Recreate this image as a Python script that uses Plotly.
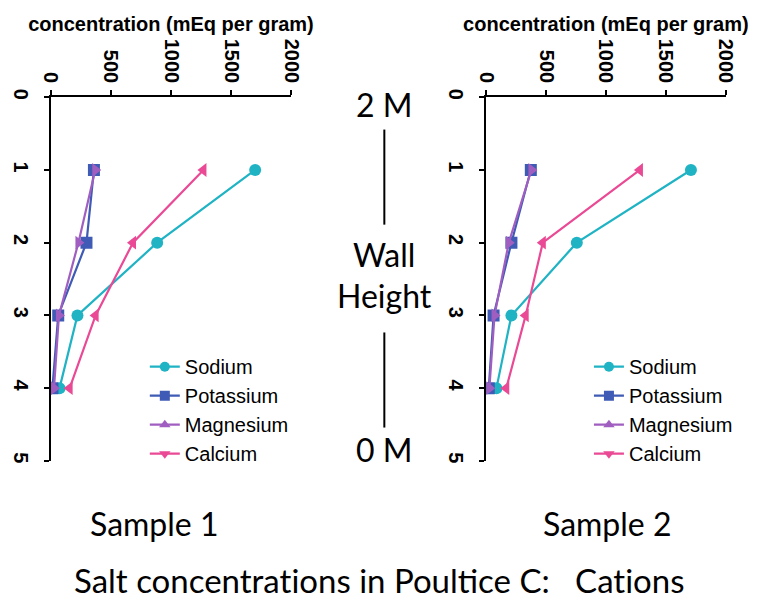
import plotly.graph_objects as go

depth = [1, 2, 3, 4]
series_names = ["Sodium", "Potassium", "Magnesium", "Calcium"]
colors = ["#1fb3c4", "#3f5bb5", "#a05fc0", "#ea4a95"]
plot_symbols = ["circle", "square", "triangle-right", "triangle-left"]
legend_symbols = ["circle", "square", "triangle-up", "triangle-down"]

sample1 = {
    "Sodium": [1700, 885, 222, 73],
    "Potassium": [359, 297, 62, 14],
    "Magnesium": [370, 230, 68, 27],
    "Calcium": [1270, 684, 373, 157],
}
sample2 = {
    "Sodium": [1710, 757, 211, 86],
    "Potassium": [373, 211, 62, 22],
    "Magnesium": [378, 189, 70, 27],
    "Calcium": [1284, 473, 330, 168],
}
x_ticks = [0, 500, 1000, 1500, 2000]
y_ticks = [0, 1, 2, 3, 4, 5]

fig = go.Figure()
for si, (data, xa, ya, lg) in enumerate([(sample1, "x", "y", "legend"), (sample2, "x2", "y2", "legend2")]):
    for name, col, ps, ls in zip(series_names, colors, plot_symbols, legend_symbols):
        fig.add_trace(go.Scatter(
            x=data[name], y=depth, mode="lines+markers", xaxis=xa, yaxis=ya,
            line=dict(color=col, width=2.2), marker=dict(symbol=ps, size=12, color=col),
            showlegend=False, name=name))
        fig.add_trace(go.Scatter(
            x=[None], y=[None], mode="lines+markers", xaxis=xa, yaxis=ya,
            line=dict(color=col, width=2.2), marker=dict(symbol=ls, size=10, color=col),
            showlegend=True, legend=lg, name=name))

W, H = 759, 606
axis_common = dict(showline=True, linecolor="black", linewidth=2, ticks="outside",
                   ticklen=5, tickwidth=2, tickcolor="black", showgrid=False, zeroline=False,
                   tickangle=90, tickfont=dict(family="Liberation Sans", size=20, color="black", weight="bold"))

def xa(dom):
    return dict(domain=dom, range=[0, 2000], side="top", tickvals=x_ticks,
                title=dict(text="concentration (mEq per gram)",
                           font=dict(family="Liberation Sans", size=20, color="black", weight="bold"), standoff=2),
                **axis_common)

def ya(dom):
    return dict(domain=dom, range=[5, 0], tickvals=y_ticks, ticklabelstandoff=6, **axis_common)

ydom = [1 - 461 / H, 1 - 90 / H]
leg_font = dict(family="Liberation Sans", size=20, color="black")
fig.update_layout(
    width=W, height=H, margin=dict(l=0, r=0, t=0, b=0),
    paper_bgcolor="white", plot_bgcolor="white",
    xaxis=xa([41 / W, 289 / W]), yaxis=dict(anchor="x", **ya(ydom)),
    xaxis2=dict(anchor="y2", **xa([490 / W, 737 / W])), yaxis2=dict(anchor="x2", **ya(ydom)),
    legend=dict(x=138 / W, y=1 - 345 / H, xanchor="left", yanchor="top", bgcolor="rgba(0,0,0,0)",
                font=leg_font, tracegroupgap=0, itemwidth=30),
    legend2=dict(x=596 / W, y=1 - 345 / H, xanchor="left", yanchor="top", bgcolor="rgba(0,0,0,0)",
                 font=leg_font, tracegroupgap=0, itemwidth=30),
    showlegend=True,
)

big = dict(family="Lato", size=32, color="black")
annos = [
    ("2 M", 385, 97), ("Wall", 385, 250), ("Height", 385, 292), ("0 M", 385, 449),
    ("Sample 1", 148, 525), ("Sample 2", 615, 525),
]
for t, x, y in annos:
    fig.add_annotation(text=t, x=x / W, y=1 - y / H, xref="paper", yref="paper",
                       showarrow=False, font=big, xanchor="center", yanchor="middle")
zw = "\u200c"
main_title = f"Salt concentrat{zw}ions in Poultice C:&nbsp;&nbsp; Cat{zw}ions"
fig.add_annotation(text=main_title, x=380 / W, y=1 - 583 / H,
                   xref="paper", yref="paper", showarrow=False,
                   font=dict(family="Lato", size=33, color="black"), xanchor="center", yanchor="middle")
for y0, y1 in [(123, 220), (330, 427)]:
    fig.add_shape(type="line", xref="paper", yref="paper", x0=385 / W, x1=385 / W,
                  y0=1 - y0 / H, y1=1 - y1 / H, line=dict(color="black", width=2))

fig.write_html("out.html")
